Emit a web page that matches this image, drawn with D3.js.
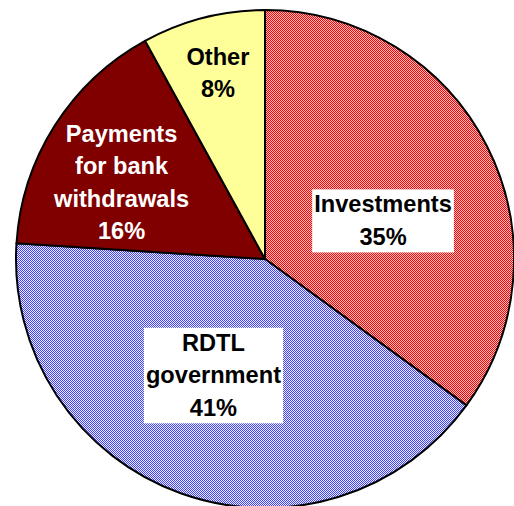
<!DOCTYPE html>
<html>
<head>
<meta charset="utf-8">
<script src="https://cdn.jsdelivr.net/npm/d3@7"></script>
<style>
  html, body { margin: 0; padding: 0; background: #ffffff; }
  svg { display: block; }
</style>
</head>
<body>
<svg id="chart" width="514" height="506"></svg>
<script>
// ---- data ----
const categories = ["Investments", "RDTL government", "Payments for bank withdrawals", "Other"];
const values = [35, 41, 16, 8];
const labelLines = [
  ["Investments"],
  ["RDTL", "government"],
  ["Payments", "for bank", "withdrawals"],
  ["Other"]
];

// ---- layout / style ----
const W = 514, H = 506;
const cx = 265, cy = 259, R = 249;
const lineH = 32.5;
const fontSize = 23.6;
// label box centres as fractions of radius (relative to pie centre)
const labelAnchor = [[0.474, -0.153], [-0.207, 0.468], [-0.576, -0.307], [-0.189, -0.747]];
const labelBoxed = [true, true, false, false];
const labelColor = ["#000", "#000", "#fff", "#000"];

const svg = d3.select("#chart");
const defs = svg.append("defs");

function checker(id, a, b) {
  const p = defs.append("pattern").attr("id", id)
    .attr("patternUnits", "userSpaceOnUse").attr("width", 2).attr("height", 2);
  p.append("rect").attr("width", 2).attr("height", 2).attr("fill", b);
  p.append("rect").attr("x", 0).attr("y", 0).attr("width", 1).attr("height", 1).attr("fill", a);
  p.append("rect").attr("x", 1).attr("y", 1).attr("width", 1).attr("height", 1).attr("fill", a);
}
checker("redPat", "#ff0000", "#ffc4c4");
checker("bluePat", "#4040ff", "#eeeeff");

const fills = d3.scaleOrdinal()
  .domain(categories)
  .range(["url(#redPat)", "url(#bluePat)", "#800000", "#ffff99"]);

const pie = d3.pie().sort(null).value(d => d.v).startAngle(0).endAngle(2 * Math.PI);
const arcs = pie(categories.map((c, i) => ({ c, v: values[i], i })));
const arc = d3.arc().innerRadius(0).outerRadius(R);

const g = svg.append("g").attr("transform", `translate(${cx},${cy})`);

g.selectAll("path.slice").data(arcs).enter().append("path")
  .attr("class", "slice")
  .attr("d", arc)
  .attr("fill", d => fills(d.data.c))
  .attr("stroke", "#000")
  .attr("stroke-width", 2)
  .attr("stroke-linejoin", "round");

// ---- labels ----
const fmt = v => Math.round(v) + "%";
arcs.forEach((d, i) => {
  const lines = labelLines[i].concat([fmt(d.data.v)]);
  const n = lines.length;
  const ax = labelAnchor[i][0] * R, ay = labelAnchor[i][1] * R;
  const top = ay - (n * lineH - 2) / 2;
  const firstBase = top + 23;
  const lg = g.append("g");
  const t = lg.append("text")
    .attr("text-anchor", "middle")
    .attr("font-family", "'Liberation Sans', Arial, sans-serif")
    .attr("font-weight", "bold")
    .attr("font-size", fontSize)
    .attr("fill", labelColor[i]);
  lines.forEach((s, k) => {
    t.append("tspan").attr("x", ax).attr("y", firstBase + k * lineH).text(s);
  });
  if (labelBoxed[i]) {
    const bb = t.node().getBBox();
    lg.insert("rect", "text")
      .attr("x", bb.x - 2)
      .attr("y", top)
      .attr("width", bb.width + 4)
      .attr("height", n * lineH - 2)
      .attr("fill", "#fff");
  }
});
</script>
</body>
</html>
